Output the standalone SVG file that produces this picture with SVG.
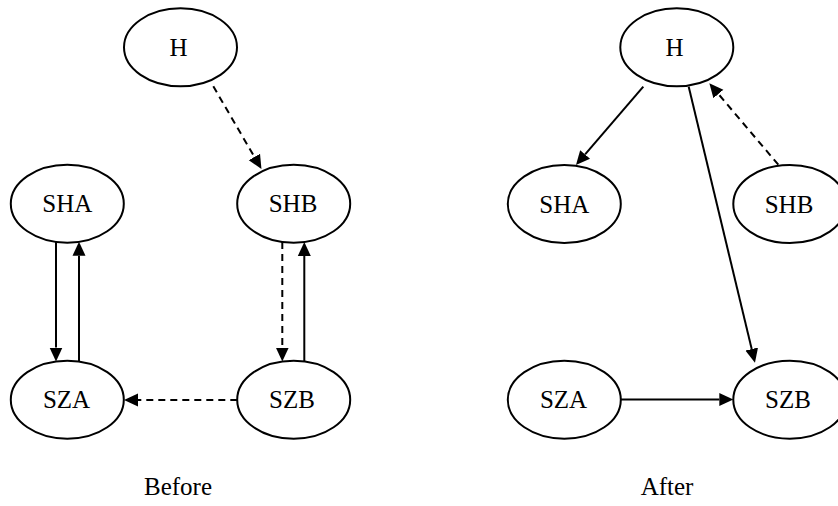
<svg xmlns="http://www.w3.org/2000/svg" width="838" height="506" viewBox="0 0 838 506">
<defs>
<marker id="ah" markerUnits="userSpaceOnUse" markerWidth="16" markerHeight="16" refX="0" refY="7" orient="auto" viewBox="0 0 16 14">
<path d="M0,0.5 L14,7 L0,13.5 z" fill="#000"/>
</marker>
<style>
.n ellipse{fill:#fff;stroke:#000;stroke-width:2}
.n text{font-family:"Liberation Serif","Times New Roman",serif;font-size:25px;text-anchor:middle;fill:#000}
.e line{stroke:#000;stroke-width:2;fill:none;marker-end:url(#ah)}
.e .d{stroke-dasharray:7,5}
.cap{font-family:"Liberation Serif","Times New Roman",serif;font-size:25px;text-anchor:middle;fill:#000}
</style>
</defs>
<rect width="838" height="506" fill="#fff"/>
<g id="connectors" class="e">
<line class="d" x1="213.3" y1="86.3" x2="254.4" y2="156.9"/>
<line x1="56" y1="241.9" x2="56" y2="347.5"/>
<line x1="79" y1="361.6" x2="79" y2="255.8"/>
<line class="d" x1="282.3" y1="241.9" x2="282.3" y2="347.5"/>
<line x1="304.3" y1="361.6" x2="304.3" y2="255.9"/>
<line class="d" x1="237.3" y1="400" x2="138" y2="400"/>
<line x1="643.3" y1="86.7" x2="585.1" y2="154.4"/>
<line x1="688.7" y1="86.7" x2="751.7" y2="349.1"/>
<line class="d" x1="778.3" y1="164.7" x2="718.4" y2="94"/>
<line x1="621" y1="399.5" x2="719.3" y2="399.5"/>
</g>
<g id="before-H" class="n"><ellipse cx="180.5" cy="47.3" rx="56.5" ry="39"/><text x="178.5" y="56">H</text></g>
<g id="before-SHA" class="n"><ellipse cx="67.3" cy="203.7" rx="56.5" ry="39"/><text x="67.3" y="212.4">SHA</text></g>
<g id="before-SHB" class="n"><ellipse cx="293.7" cy="203.7" rx="56.5" ry="39"/><text x="293" y="212.4">SHB</text></g>
<g id="before-SZA" class="n"><ellipse cx="67.3" cy="399.7" rx="56.5" ry="39"/><text x="66.5" y="408.4">SZA</text></g>
<g id="before-SZB" class="n"><ellipse cx="293.7" cy="399.7" rx="56.5" ry="39"/><text x="292" y="408.4">SZB</text></g>
<g id="after-H" class="n"><ellipse cx="676.8" cy="47.3" rx="56.5" ry="39"/><text x="674.5" y="56">H</text></g>
<g id="after-SHA" class="n"><ellipse cx="564.3" cy="204" rx="56.5" ry="39"/><text x="564.3" y="212.7">SHA</text></g>
<g id="after-SHB" class="n"><ellipse cx="789.8" cy="204" rx="56.5" ry="39"/><text x="789" y="212.7">SHB</text></g>
<g id="after-SZA" class="n"><ellipse cx="564.3" cy="399.7" rx="56.5" ry="39"/><text x="563.5" y="408.4">SZA</text></g>
<g id="after-SZB" class="n"><ellipse cx="789.8" cy="399.7" rx="56.5" ry="39"/><text x="788" y="408.4">SZB</text></g>
<text class="cap" x="178" y="495">Before</text>
<text class="cap" x="667" y="495">After</text>
</svg>
